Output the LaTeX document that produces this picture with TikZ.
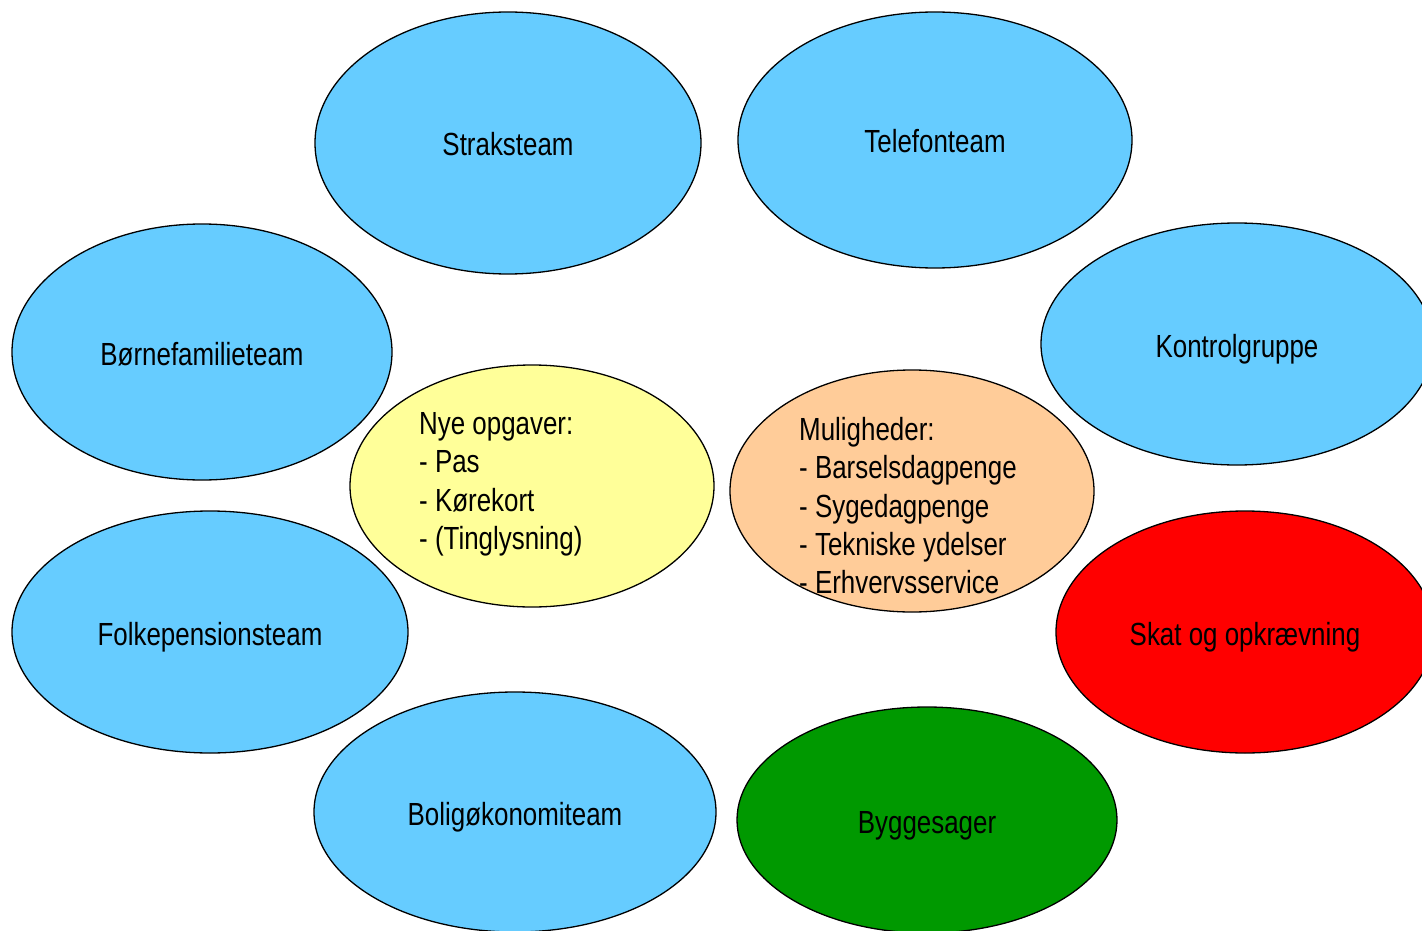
\documentclass[tikz,border=0pt]{standalone}
\usepackage{fontspec}
\setmainfont[FakeStretch=0.81]{Liberation Sans}
\usepackage{tikz}
\usetikzlibrary{shapes.geometric}

\definecolor{teamblue}{HTML}{66CCFF}
\definecolor{nyeyellow}{HTML}{FFFF99}
\definecolor{mulorange}{HTML}{FFCC99}
\definecolor{skatred}{HTML}{FF0000}
\definecolor{byggreen}{HTML}{009900}

\tikzset{
    team/.style={ellipse, draw=black, line width=1.3pt, inner sep=0pt,
        font=\fontsize{32}{38}\selectfont, text height=27pt, text depth=1pt},
    liste/.style={anchor=north west, align=left, inner sep=0pt,
        font=\fontsize{32}{38.4}\selectfont}
}

\begin{document}
\begin{tikzpicture}[x=1pt,y=-1pt]
        \useasboundingbox (0,0) rectangle (1422,931);
        \clip (0,0) rectangle (1422,931);
        \foreach \name/\cx/\cy/\rx/\ry/\col/\txt in {
            straks/508/143/193/131/teamblue/Straksteam,
            telefon/935/140/197/128/teamblue/Telefonteam,
            boernefam/202/352/190/128/teamblue/Børnefamilieteam,
            kontrol/1237/344/196/121/teamblue/Kontrolgruppe,
            nye/532/486/182/121/nyeyellow/{},
            muligh/912/491/182/121/mulorange/{},
            folkepens/210/632/198/121/teamblue/Folkepensionsteam,
            skat/1245/632/189/121/skatred/Skat og opkrævning,
            bolig/515/812/201/120/teamblue/Boligøkonomiteam,
            bygge/927/820/190/113/byggreen/Byggesager}
        {
            \node (\name) [team, fill=\col, minimum width=2*\rx pt,
                minimum height=2*\ry pt] at (\cx,\cy) {\txt};
        }
        \node (nyetxt) [liste] at (419,412)
            {Nye opgaver:\\- Pas\\- Kørekort\\- (Tinglysning)};
        \node (mulightxt) [liste] at (799,417)
            {Muligheder:\\- Barselsdagpenge\\- Sygedagpenge\\- Tekniske ydelser\\- Erhvervsservice};
    \end{tikzpicture}
\end{document}
